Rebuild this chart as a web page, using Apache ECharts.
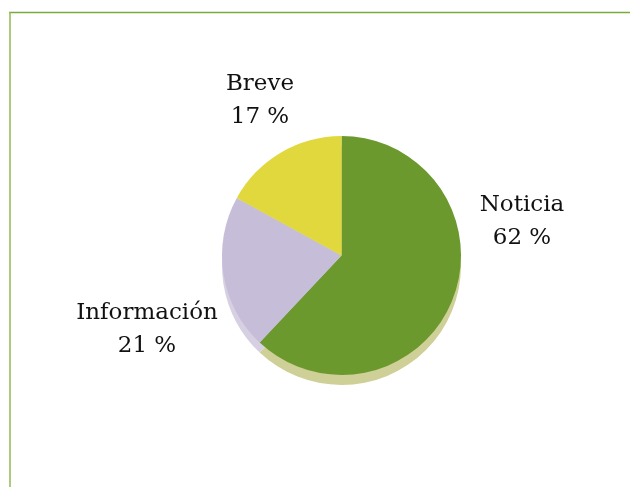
<!DOCTYPE html>
<html>
<head>
<meta charset="utf-8">
<script src="https://cdn.jsdelivr.net/npm/echarts@6/dist/echarts.min.js"></script>
<style>
html,body{margin:0;padding:0;background:#fff;}
#chart{width:630px;height:487px;}
</style>
</head>
<body>
<div id="chart"></div>
<script>
const categories = ['Noticia', 'Información', 'Breve'];
const values = [62, 21, 17];

const colors = ['#6b992d', '#c6bdd8', '#e1d83d'];
const shadowColors = ['#cfcf98', '#d6d0e2', '#e8e39a'];
const labelSpots = [[522, 222], [147, 330], [260, 101]];

const chart = echarts.init(document.getElementById('chart'));
const pieData = categories.map((c, i) => ({ name: c, value: values[i] }));

chart.setOption({
  animation: false,
  backgroundColor: '#ffffff',
  graphic: [
    { type: 'line', shape: { x1: 9, y1: 12.5, x2: 630, y2: 12.5 }, style: { stroke: '#7aab3a', lineWidth: 1.5 } },
    { type: 'line', shape: { x1: 10, y1: 12, x2: 10, y2: 487 }, style: { stroke: '#8fbb55', lineWidth: 1.5 } }
  ],
  series: [
    {
      type: 'pie',
      center: [341.5, 265.5],
      radius: [0, 119.5],
      startAngle: 90,
      clockwise: true,
      silent: true,
      label: { show: false },
      labelLine: { show: false },
      itemStyle: { color: p => shadowColors[p.dataIndex] },
      data: pieData
    },
    {
      type: 'pie',
      center: [341.5, 255.5],
      radius: [0, 119.5],
      startAngle: 90,
      clockwise: true,
      itemStyle: { color: p => colors[p.dataIndex] },
      labelLine: { show: false },
      label: {
        show: true,
        position: 'outside',
        formatter: p => p.name + '\n' + p.value + ' %',
        fontFamily: 'DejaVu Serif',
        fontSize: 23,
        lineHeight: 33,
        color: '#111111',
        align: 'center'
      },
      labelLayout: p => ({
        x: labelSpots[p.dataIndex][0],
        y: labelSpots[p.dataIndex][1],
        align: 'center',
        verticalAlign: 'middle'
      }),
      data: pieData
    }
  ]
});
</script>
</body>
</html>
